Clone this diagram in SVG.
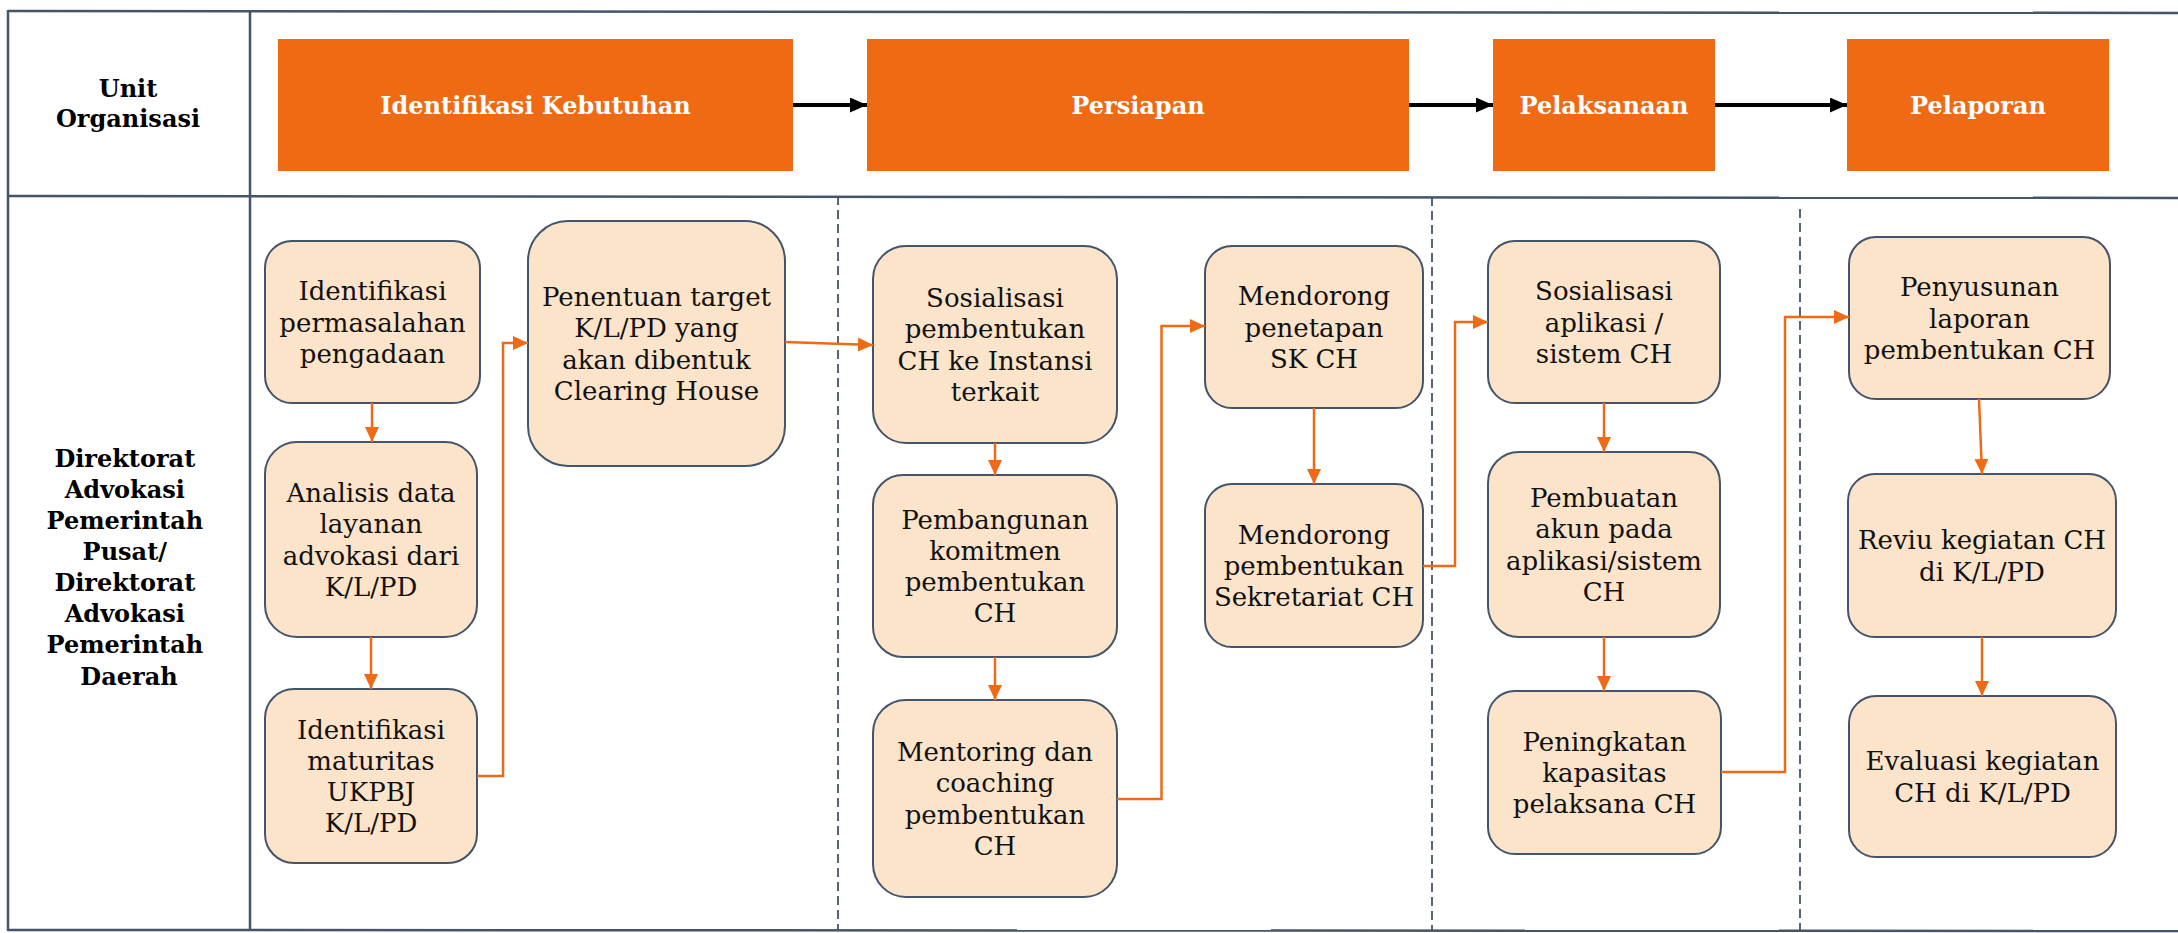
<svg xmlns="http://www.w3.org/2000/svg" width="2178" height="933" viewBox="0 0 2178 933">
  <style>
    .grid { stroke: #44546A; stroke-width: 2.5; fill: none; }
    .sep { stroke: #44546A; stroke-width: 1.8; stroke-dasharray: 9 5; fill: none; }
    .phase { fill: #EF6A12; }
    .phase-label { font-family: "DejaVu Serif", "Liberation Serif", serif; font-weight: bold; font-size: 24px; fill: #FFFFFF; text-anchor: middle; }
    .lane-label { font-family: "DejaVu Serif", "Liberation Serif", serif; font-weight: bold; font-size: 24px; fill: #000000; text-anchor: middle; }
    .box { fill: #FBE4CA; stroke: #44546A; stroke-width: 2; }
    .box-label { font-family: "DejaVu Serif", "Liberation Serif", serif; font-size: 26px; fill: #111111; text-anchor: middle; }
    .flow { stroke: #EE6A15; stroke-width: 2.5; fill: none; marker-end: url(#arrow-orange); }
    .phase-flow { stroke: #000000; stroke-width: 4; fill: none; marker-end: url(#arrow-black); }
  </style>
  <defs>
    <marker id="arrow-orange" markerUnits="userSpaceOnUse" viewBox="0 0 15 14" markerWidth="15" markerHeight="14" refX="15" refY="7" orient="auto">
      <path d="M0,0 L15,7 L0,14 Z" fill="#EE6A15"/>
    </marker>
    <marker id="arrow-black" markerUnits="userSpaceOnUse" viewBox="0 0 17 15" markerWidth="17" markerHeight="15" refX="17" refY="7.5" orient="auto">
      <path d="M0,0 L17,7.5 L0,15 Z" fill="#000000"/>
    </marker>
  </defs>

  <rect width="2178" height="933" fill="#FFFFFF"/>

  <!-- table frame -->
  <g id="table">
    <line class="grid" x1="8" y1="11" x2="2178" y2="13"/>
    <line class="grid" x1="8" y1="196" x2="2178" y2="198"/>
    <line class="grid" x1="8" y1="930" x2="2178" y2="931"/>
    <line class="grid" x1="8" y1="10" x2="8" y2="931"/>
    <line class="grid" x1="250" y1="12" x2="250" y2="931"/>
    <line class="sep" x1="838" y1="196" x2="838" y2="930"/>
    <line class="sep" x1="1432" y1="197" x2="1432" y2="930"/>
    <line class="sep" x1="1800" y1="209" x2="1800" y2="930"/>
  </g>

  <!-- lane labels -->
  <g id="label-unit">
    <text class="lane-label" x="128"><tspan x="128" y="96.5">Unit</tspan><tspan x="128" y="127">Organisasi</tspan></text>
  </g>
  <g id="label-direktorat">
    <text class="lane-label">
      <tspan x="129" y="467">Direktorat</tspan>
      <tspan x="129" y="498">Advokasi</tspan>
      <tspan x="129" y="529">Pemerintah</tspan>
      <tspan x="129" y="560">Pusat/</tspan>
      <tspan x="129" y="591">Direktorat</tspan>
      <tspan x="129" y="622">Advokasi</tspan>
      <tspan x="129" y="653">Pemerintah</tspan>
      <tspan x="129" y="685">Daerah</tspan>
    </text>
  </g>

  <!-- phase header -->
  <g id="phase-identifikasi">
    <rect class="phase" x="278" y="39" width="515" height="132"/>
    <text class="phase-label" x="535.5" y="113.5">Identifikasi Kebutuhan</text>
  </g>
  <g id="phase-persiapan">
    <rect class="phase" x="867" y="39" width="542" height="132"/>
    <text class="phase-label" x="1138" y="113.5">Persiapan</text>
  </g>
  <g id="phase-pelaksanaan">
    <rect class="phase" x="1493" y="39" width="222" height="132"/>
    <text class="phase-label" x="1604" y="113.5">Pelaksanaan</text>
  </g>
  <g id="phase-pelaporan">
    <rect class="phase" x="1847" y="39" width="262" height="132"/>
    <text class="phase-label" x="1978" y="113.5">Pelaporan</text>
  </g>

  <!-- process steps -->
  <g id="n1">
    <rect class="box" x="265" y="241" width="215" height="162" rx="27"/>
    <text class="box-label"><tspan x="372.5" y="300.2">Identifikasi</tspan><tspan x="372.5" y="331.5">permasalahan</tspan><tspan x="372.5" y="362.8">pengadaan</tspan></text>
  </g>
  <g id="n2">
    <rect class="box" x="265" y="442" width="212" height="195" rx="32"/>
    <text class="box-label"><tspan x="371" y="502">Analisis data</tspan><tspan x="371" y="533.3">layanan</tspan><tspan x="371" y="564.6">advokasi dari</tspan><tspan x="371" y="595.9">K/L/PD</tspan></text>
  </g>
  <g id="n3">
    <rect class="box" x="265" y="689" width="212" height="174" rx="29"/>
    <text class="box-label"><tspan x="371" y="738.5">Identifikasi</tspan><tspan x="371" y="769.8">maturitas</tspan><tspan x="371" y="801.1">UKPBJ</tspan><tspan x="371" y="832.4">K/L/PD</tspan></text>
  </g>
  <g id="n4">
    <rect class="box" x="528" y="221" width="257" height="245" rx="40"/>
    <text class="box-label"><tspan x="656.5" y="306">Penentuan target</tspan><tspan x="656.5" y="337.3">K/L/PD yang</tspan><tspan x="656.5" y="368.6">akan dibentuk</tspan><tspan x="656.5" y="399.9">Clearing House</tspan></text>
  </g>
  <g id="n5">
    <rect class="box" x="873" y="246" width="244" height="197" rx="33"/>
    <text class="box-label"><tspan x="995" y="307">Sosialisasi</tspan><tspan x="995" y="338.3">pembentukan</tspan><tspan x="995" y="369.6">CH ke Instansi</tspan><tspan x="995" y="400.9">terkait</tspan></text>
  </g>
  <g id="n6">
    <rect class="box" x="873" y="475" width="244" height="182" rx="30"/>
    <text class="box-label"><tspan x="995" y="528.5">Pembangunan</tspan><tspan x="995" y="559.8">komitmen</tspan><tspan x="995" y="591.1">pembentukan</tspan><tspan x="995" y="622.4">CH</tspan></text>
  </g>
  <g id="n7">
    <rect class="box" x="873" y="700" width="244" height="197" rx="33"/>
    <text class="box-label"><tspan x="995" y="761">Mentoring dan</tspan><tspan x="995" y="792.3">coaching</tspan><tspan x="995" y="823.6">pembentukan</tspan><tspan x="995" y="854.9">CH</tspan></text>
  </g>
  <g id="n8">
    <rect class="box" x="1205" y="246" width="218" height="162" rx="27"/>
    <text class="box-label"><tspan x="1314" y="305.2">Mendorong</tspan><tspan x="1314" y="336.5">penetapan</tspan><tspan x="1314" y="367.8">SK CH</tspan></text>
  </g>
  <g id="n9">
    <rect class="box" x="1205" y="484" width="218" height="163" rx="27"/>
    <text class="box-label"><tspan x="1314" y="543.7">Mendorong</tspan><tspan x="1314" y="575">pembentukan</tspan><tspan x="1314" y="606.3">Sekretariat CH</tspan></text>
  </g>
  <g id="n10">
    <rect class="box" x="1488" y="241" width="232" height="162" rx="27"/>
    <text class="box-label"><tspan x="1604" y="300.2">Sosialisasi</tspan><tspan x="1604" y="331.5">aplikasi /</tspan><tspan x="1604" y="362.8">sistem CH</tspan></text>
  </g>
  <g id="n11">
    <rect class="box" x="1488" y="452" width="232" height="185" rx="31"/>
    <text class="box-label"><tspan x="1604" y="507">Pembuatan</tspan><tspan x="1604" y="538.3">akun pada</tspan><tspan x="1604" y="569.6">aplikasi/sistem</tspan><tspan x="1604" y="600.9">CH</tspan></text>
  </g>
  <g id="n12">
    <rect class="box" x="1488" y="691" width="233" height="163" rx="27"/>
    <text class="box-label"><tspan x="1604.5" y="750.7">Peningkatan</tspan><tspan x="1604.5" y="782">kapasitas</tspan><tspan x="1604.5" y="813.3">pelaksana CH</tspan></text>
  </g>
  <g id="n13">
    <rect class="box" x="1849" y="237" width="261" height="162" rx="27"/>
    <text class="box-label"><tspan x="1979.5" y="296.2">Penyusunan</tspan><tspan x="1979.5" y="327.5">laporan</tspan><tspan x="1979.5" y="358.8">pembentukan CH</tspan></text>
  </g>
  <g id="n14">
    <rect class="box" x="1848" y="474" width="268" height="163" rx="27"/>
    <text class="box-label"><tspan x="1982" y="549.4">Reviu kegiatan CH</tspan><tspan x="1982" y="580.7">di K/L/PD</tspan></text>
  </g>
  <g id="n15">
    <rect class="box" x="1849" y="696" width="267" height="161" rx="27"/>
    <text class="box-label"><tspan x="1982.5" y="770.4">Evaluasi kegiatan</tspan><tspan x="1982.5" y="801.7">CH di K/L/PD</tspan></text>
  </g>

  <!-- connectors -->
  <g id="connectors">
    <path class="phase-flow" d="M793,105 H867"/>
    <path class="phase-flow" d="M1409,105 H1493"/>
    <path class="phase-flow" d="M1715,105 H1847"/>
    <path class="flow" d="M372,403 V442"/>
    <path class="flow" d="M371,637 V689"/>
    <path class="flow" d="M477,776 H503 V343 H528"/>
    <path class="flow" d="M785,342 L873,345"/>
    <path class="flow" d="M995,443 V475"/>
    <path class="flow" d="M995,657 V700"/>
    <path class="flow" d="M1117,799 H1161.5 V326 H1205"/>
    <path class="flow" d="M1314,408 V484"/>
    <path class="flow" d="M1423,566 H1455 V322 H1488"/>
    <path class="flow" d="M1604,403 V452"/>
    <path class="flow" d="M1604,637 V691"/>
    <path class="flow" d="M1721,772 H1785 V317 H1849"/>
    <path class="flow" d="M1979,399 L1982,474"/>
    <path class="flow" d="M1982,637 V696"/>
  </g>
</svg>
